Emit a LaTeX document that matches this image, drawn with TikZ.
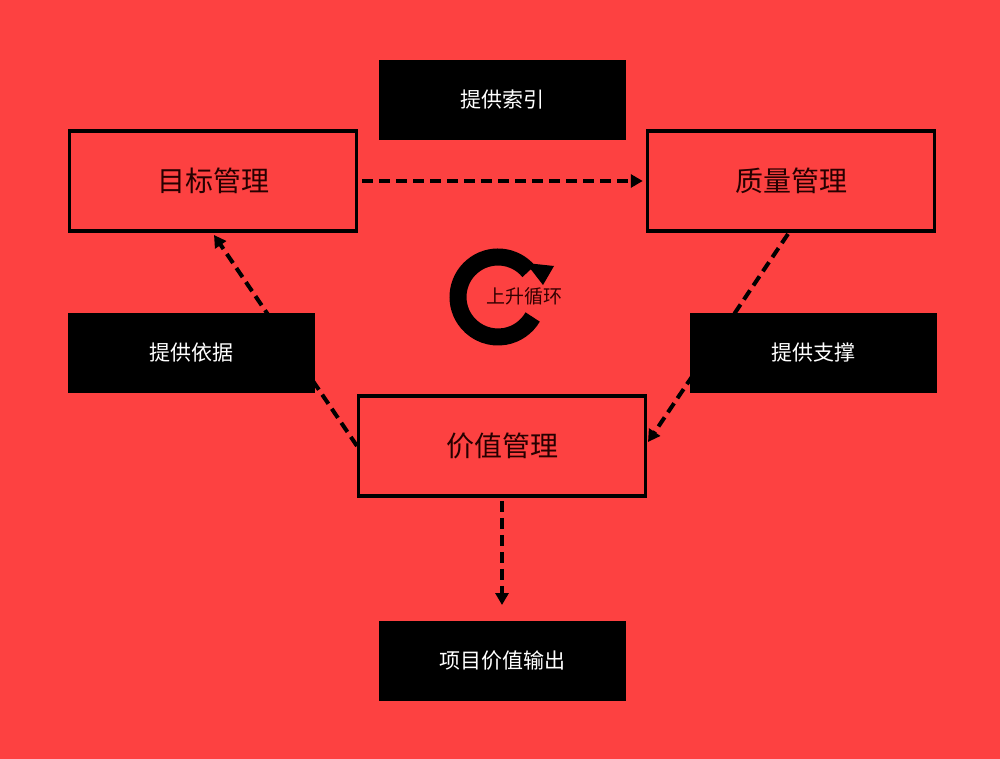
\documentclass[tikz,border=0pt]{standalone}
\usepackage{fontspec}
\newfontfamily\cjk{Noto Sans CJK SC}
\usetikzlibrary{arrows.meta}
\definecolor{bg}{HTML}{FD4141}
\begin{document}
\begin{tikzpicture}[x=1pt,y=-1pt,
  redbox/.style={draw=black,line width=3.5pt,fill=bg,minimum width=287pt,minimum height=100pt,font=\cjk\fontsize{28}{30}\selectfont,text=black!85!red},
  blackbox/.style={fill=black,minimum width=247pt,minimum height=80pt,font=\cjk\fontsize{21}{24}\selectfont,text=white},
  dashline/.style={line width=4pt,dash pattern=on 11pt off 6pt,-{Triangle[length=12pt,width=13pt]}}]
\fill[bg] (0,0) rectangle (1000,759);
\useasboundingbox (0,0) rectangle (1000,759);
\node[redbox] (goal) at (213,181) {目标管理};
\node[redbox] (qual) at (791,181) {质量管理};
\node[redbox] (val) at (502,446) {价值管理};
\coordinate (qs) at (788,234);
\coordinate (qe) at (648,442);
\coordinate (vs) at (357,446);
\coordinate (ge) at (214,235);
\draw[dashline] ([xshift=4pt]goal.east) -- ([xshift=-3pt]qual.west);
\draw[dashline] (qs) -- (qe);
\draw[dashline] (vs) -- (ge);
\coordinate (out) at (502,605);
\draw[dashline] ([yshift=-3pt]val.south) -- (out);
\node[blackbox] (idx) at (502,100) {提供索引};
\node[blackbox] (basis) at (191,353) {提供依据};
\node[blackbox] (supp) at (813,353) {提供支撑};
\node[blackbox] (res) at (502,661) {项目价值输出};
% cycle
\draw[line width=17pt] (498,297) ++(-40:40) arc[start angle=-40,end angle=-330,radius=40];
\fill (526,263) -- (554,266) -- (543,285) -- cycle;
\node[font=\cjk\fontsize{19}{20}\selectfont,text=black!80!red] (cyc) at (524,296) {上升循环};
\end{tikzpicture}
\end{document}
